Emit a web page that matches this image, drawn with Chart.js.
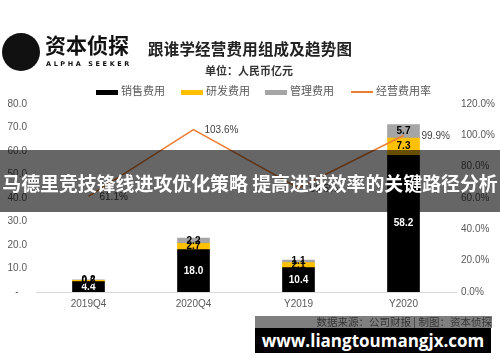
<!DOCTYPE html>
<html>
<head>
<meta charset="utf-8">
<script src="https://cdn.jsdelivr.net/npm/chart.js@4"></script>
<style>
  body { margin: 0; background: #fff; }
  #wrap { position: relative; width: 500px; height: 362px; overflow: hidden; font-family: "Noto Sans CJK SC", sans-serif; }
  #wrap canvas { position: absolute; left: 0; top: 0; }
  .abs { position: absolute; white-space: nowrap; }
  .logo-dot { left: 2px; top: 33px; width: 38px; height: 38px; border-radius: 50%; background: #111; }
  .logo-cn { left: 45px; top: 31px; font-size: 21px; font-weight: 700; color: #111; line-height: 26px; }
  .logo-en { left: 46px; top: 60px; font-family: "DejaVu Sans", sans-serif; font-size: 6.5px; font-weight: 700; letter-spacing: 2.6px; color: #111; }
  .title { left: 148px; top: 37px; font-size: 15.5px; font-weight: 700; color: #222; letter-spacing: 0.2px; }
  .sub { left: 205px; top: 62px; font-size: 11px; font-weight: 700; color: #333; }
  .leg { top: 83px; font-size: 11px; color: #595959; line-height: 14px; }
  .sw { display: inline-block; width: 22px; vertical-align: middle; margin-right: 3px; }
  .banner { left: 0; top: 150px; width: 500px; height: 62px; background: rgba(0,0,0,0.6); color: #fff;
            font-size: 18.9px; font-weight: 700; text-align: center; line-height: 66px; }
  .src { left: 255px; top: 316px; width: 237px; height: 12px; background: #7f7f7f; color: #333;
         font-size: 10.5px; text-align: right; line-height: 12px; }
  .url { left: 255px; top: 328px; width: 236px; height: 25px; background: #000; color: #fff;
         font-family: "Open Sans", sans-serif; font-size: 17px; font-weight: 700; text-align: center; line-height: 25px; }
</style>
</head>
<body>
<div id="wrap">
  <canvas id="chart" width="500" height="362"></canvas>
  <div class="abs logo-dot"></div>
  <div class="abs logo-cn">资本侦探</div>
  <div class="abs logo-en">ALPHA SEEKER</div>
  <div class="abs title">跟谁学经营费用组成及趋势图</div>
  <div class="abs sub">单位：人民币亿元</div>
  <div class="abs leg" style="left:96px"><span class="sw" style="height:5px;background:#000"></span>销售费用</div>
  <div class="abs leg" style="left:181px"><span class="sw" style="height:5px;background:#FFC000"></span>研发费用</div>
  <div class="abs leg" style="left:265px"><span class="sw" style="height:5px;background:#A5A5A5"></span>管理费用</div>
  <div class="abs leg" style="left:351px"><span class="sw" style="height:2px;background:#ED7D31"></span>经营费用率</div>
  <div class="abs banner">马德里竞技锋线进攻优化策略 提高进球效率的关键路径分析</div>
  <div class="abs src">数据来源：公司财报 | 制图：资本侦探</div>
  <div class="abs url">www.liangtoumangjx.com</div>
</div>
<script>
// dati
var categories = ["2019Q4", "2020Q4", "Y2019", "Y2020"];
var salesCost = [4.4, 18.0, 10.4, 58.2];     // 销售费用
var rdCost = [0.6, 2.7, 2.1, 7.3];           // 研发费用
var adminCost = [0.2, 2.2, 1.1, 5.7];        // 管理费用
var costRate = [61.1, 103.6, 66.5, 99.9];    // 经营费用率 %
var leftTicks = [0, 10, 20, 30, 40, 50, 60, 70, 80];
var rightTicks = [0, 20, 40, 60, 80, 100, 120];

var tickFont = { family: "'Liberation Sans', Arial, sans-serif", size: 10 };

// etichette sui dati
var labelPlugin = {
  id: 'labels',
  afterDatasetsDraw: function(chart) {
    var ctx = chart.ctx;
    ctx.save();
    ctx.font = "bold 10px 'Liberation Sans', Arial, sans-serif";
    ctx.textBaseline = 'middle';
    chart.data.datasets.forEach(function(ds, di) {
      var meta = chart.getDatasetMeta(di);
      meta.data.forEach(function(el, i) {
        var v = ds.data[i];
        if (ds.type === 'line') {
          ctx.font = "10px 'Liberation Sans', Arial, sans-serif";
          ctx.fillStyle = '#404040';
          ctx.textAlign = 'left';
          var dx = i === meta.data.length - 1 ? 18 : 11;
          ctx.fillText(v.toFixed(1) + '%', el.x + dx, el.y + 1);
        } else {
          ctx.fillStyle = di === 0 ? '#fff' : '#000';
          ctx.textAlign = 'center';
          ctx.fillText(v.toFixed(1), el.x, (el.y + el.base) / 2);
        }
      });
    });
    ctx.restore();
  }
};

new Chart(document.getElementById('chart'), {
  data: {
    labels: categories,
    datasets: [
      { type: 'bar', label: '销售费用', data: salesCost, backgroundColor: '#000', yAxisID: 'y', barThickness: 32, order: 2 },
      { type: 'bar', label: '研发费用', data: rdCost, backgroundColor: '#FFC000', yAxisID: 'y', barThickness: 32, order: 2 },
      { type: 'bar', label: '管理费用', data: adminCost, backgroundColor: '#A5A5A5', yAxisID: 'y', barThickness: 32, order: 2 },
      { type: 'line', label: '经营费用率', data: costRate, borderColor: '#ED7D31', borderWidth: 1.5,
        pointRadius: 0, tension: 0, yAxisID: 'y1', order: 1 }
    ]
  },
  options: {
    responsive: false,
    animation: false,
    layout: { padding: { top: 104, left: 0, right: 0, bottom: 0 } },
    plugins: { legend: { display: false }, tooltip: { enabled: false } },
    scales: {
      x: {
        stacked: true,
        grid: { display: false, drawTicks: false },
        border: { display: true, color: '#d9d9d9' },
        ticks: { font: tickFont, color: '#595959', padding: 6 },
        afterFit: function(s) { s.height = 70; }
      },
      y: {
        stacked: true,
        position: 'left',
        min: 0, max: 80,
        grid: { display: false, drawTicks: false },
        border: { display: false },
        afterBuildTicks: function(s) { s.ticks = leftTicks.map(function(v) { return { value: v }; }); },
        ticks: {
          font: tickFont, color: '#595959', padding: 9,
          callback: function(v) { return v === 0 ? '-   ' : v.toFixed(1); }
        },
        afterFit: function(s) { s.width = 36; }
      },
      y1: {
        position: 'right',
        min: 0, max: 120,
        grid: { display: false, drawTicks: false },
        border: { display: false },
        afterBuildTicks: function(s) { s.ticks = rightTicks.map(function(v) { return { value: v }; }); },
        ticks: {
          font: tickFont, color: '#595959', padding: 5,
          callback: function(v) { return v.toFixed(1) + '%'; }
        },
        afterFit: function(s) { s.width = 44; }
      }
    }
  },
  plugins: [labelPlugin]
});
</script>
</body>
</html>
